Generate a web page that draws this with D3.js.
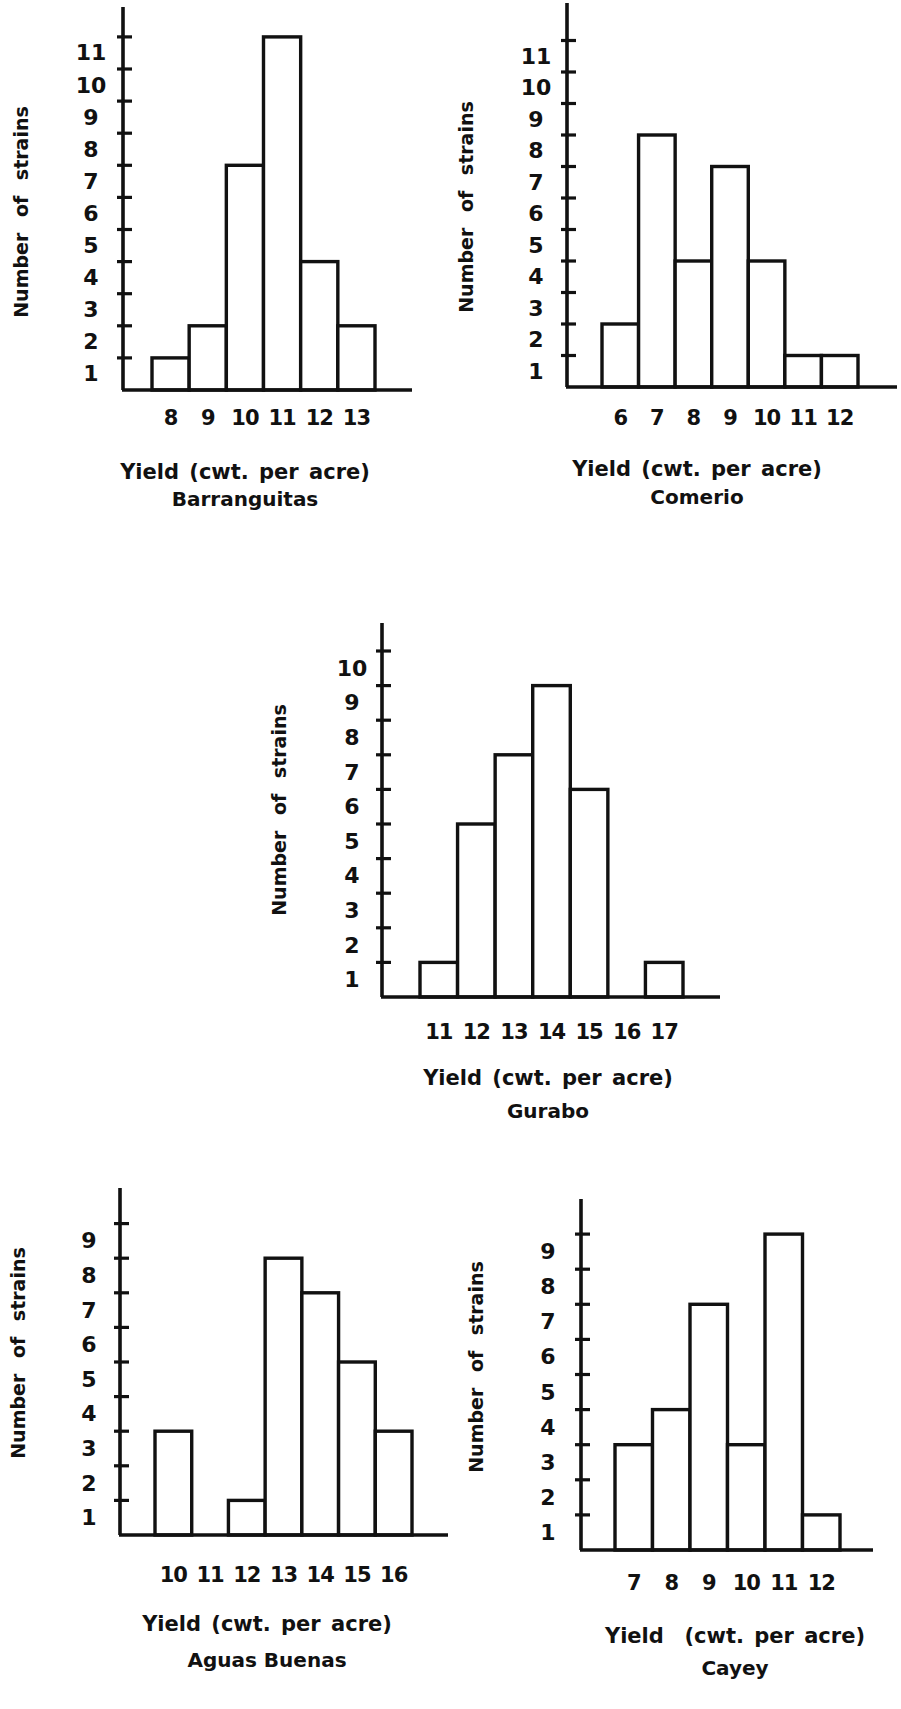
<!DOCTYPE html>
<html><head><meta charset="utf-8">
<script src="https://cdn.jsdelivr.net/npm/d3@7"></script>
<style>
html,body{margin:0;padding:0;background:#fff;}
svg{display:block;}
text{font-family:"DejaVu Sans",sans-serif;font-weight:bold;fill:#111;}
</style></head>
<body><svg id="chart" width="901" height="1709"></svg>
<script>
// ---- data ----
const barranguitasCats = [8, 9, 10, 11, 12, 13];
const barranguitasVals = [1, 2, 7, 11, 4, 2];
const barranguitasTicks = [1,2,3,4,5,6,7,8,9,10,11];

const comerioCats = [6, 7, 8, 9, 10, 11, 12];
const comerioVals = [2, 8, 4, 7, 4, 1, 1];
const comerioTicks = [1,2,3,4,5,6,7,8,9,10,11];

const guraboCats = [11, 12, 13, 14, 15, 16, 17];
const guraboVals = [1, 5, 7, 9, 6, 0, 1];
const guraboTicks = [1,2,3,4,5,6,7,8,9,10];

const aguasCats = [10, 11, 12, 13, 14, 15, 16];
const aguasVals = [3, 0, 1, 8, 7, 5, 3];
const aguasTicks = [1,2,3,4,5,6,7,8,9];

const cayeyCats = [7, 8, 9, 10, 11, 12];
const cayeyVals = [3, 4, 7, 3, 9, 1];
const cayeyTicks = [1,2,3,4,5,6,7,8,9];

const xTitle = "Yield (cwt. per acre)";
const yTitle = "Number of strains";

// ---- layout ----
const panels = [
  {cats: barranguitasCats, vals: barranguitasVals, ticks: barranguitasTicks, name: "Barranguitas",
   ax: 123, base: 390, unit: 32.1, top: 7, right: 412, x0: 152, x1: 375,
   lblX: 91, xLblY: 418, titleX: 245, titleY: 472, nameY: 499, yTX: 21, yTY: 212, xTitle: xTitle},
  {cats: comerioCats, vals: comerioVals, ticks: comerioTicks, name: "Comerio",
   ax: 567, base: 387, unit: 31.5, top: 3, right: 897, x0: 602, x1: 858,
   lblX: 536, xLblY: 418, titleX: 697, titleY: 469, nameY: 497, yTX: 466, yTY: 207, xTitle: xTitle},
  {cats: guraboCats, vals: guraboVals, ticks: guraboTicks, name: "Gurabo",
   ax: 382, base: 997, unit: 34.6, top: 623, right: 720, x0: 420, x1: 683,
   lblX: 352, xLblY: 1032, titleX: 548, titleY: 1078, nameY: 1111, yTX: 279, yTY: 810, xTitle: xTitle},
  {cats: aguasCats, vals: aguasVals, ticks: aguasTicks, name: "Aguas Buenas",
   ax: 120, base: 1535, unit: 34.6, top: 1188, right: 448, x0: 155, x1: 412,
   lblX: 89, xLblY: 1575, titleX: 267, titleY: 1624, nameY: 1660, yTX: 18, yTY: 1353, xTitle: xTitle},
  {cats: cayeyCats, vals: cayeyVals, ticks: cayeyTicks, name: "Cayey",
   ax: 581, base: 1550, unit: 35.1, top: 1199, right: 873, x0: 615, x1: 840,
   lblX: 548, xLblY: 1583, titleX: 735, titleY: 1636, nameY: 1668, yTX: 476, yTY: 1367, xTitle: "Yield\u00a0\u00a0(cwt. per acre)"}
];

const svg = d3.select("#chart");
svg.append("rect").attr("width", 901).attr("height", 1709).attr("fill", "#fff");

panels.forEach(p => {
  const g = svg.append("g");
  const maxV = (p.base - p.top) / p.unit;
  const y = d3.scaleLinear().domain([0, maxV]).range([p.base, p.top]);
  const x = d3.scaleBand().domain(p.cats).range([p.x0, p.x1]).paddingInner(0).paddingOuter(0);

  // bars
  g.selectAll("rect.bar").data(p.cats.map((c, i) => ({c, v: p.vals[i]})).filter(d => d.v > 0))
    .enter().append("rect").attr("class", "bar")
    .attr("x", d => x(d.c)).attr("width", x.bandwidth())
    .attr("y", d => y(d.v)).attr("height", d => y(0) - y(d.v))
    .attr("fill", "#fff").attr("stroke", "#111").attr("stroke-width", 3.4);

  // y axis line
  g.append("line").attr("x1", p.ax).attr("x2", p.ax).attr("y1", y(maxV)).attr("y2", y(0))
    .attr("stroke", "#111").attr("stroke-width", 3.6);
  // baseline
  g.append("line").attr("x1", p.ax - 1).attr("x2", p.right).attr("y1", y(0)).attr("y2", y(0))
    .attr("stroke", "#111").attr("stroke-width", 3.6);

  // y ticks (crossing the axis)
  g.selectAll("line.tick").data(p.ticks).enter().append("line").attr("class", "tick")
    .attr("x1", p.ax - 6).attr("x2", p.ax + 9)
    .attr("y1", d => y(d)).attr("y2", d => y(d))
    .attr("stroke", "#111").attr("stroke-width", 3.2);
  // y tick labels, lettered just below each tick
  g.selectAll("text.ylab").data(p.ticks).enter().append("text").attr("class", "ylab")
    .attr("x", p.lblX).attr("y", d => y(d - 0.5))
    .attr("text-anchor", "middle").attr("dominant-baseline", "central")
    .attr("font-size", 22).text(d => d);

  // x labels via axis
  const xa = g.append("g").attr("transform", `translate(0,${p.xLblY})`)
    .call(d3.axisBottom(x).tickSize(0).tickPadding(0));
  xa.select(".domain").remove();
  xa.selectAll("text").attr("font-size", 21).attr("font-family", "DejaVu Sans")
    .attr("font-weight", "bold").attr("fill", "#111").attr("dy", "0.35em").attr("y", 0)
    .attr("letter-spacing", -1);

  // titles
  g.append("text").attr("x", p.titleX).attr("y", p.titleY).attr("text-anchor", "middle")
    .attr("dominant-baseline", "central").attr("font-size", 21).attr("word-spacing", 3).text(p.xTitle);
  g.append("text").attr("x", p.titleX).attr("y", p.nameY).attr("text-anchor", "middle")
    .attr("dominant-baseline", "central").attr("font-size", 20).text(p.name);
  g.append("text").attr("transform", `translate(${p.yTX},${p.yTY}) rotate(-90)`)
    .attr("text-anchor", "middle").attr("dominant-baseline", "central")
    .attr("font-size", 19).attr("word-spacing", 9).text(yTitle);
});
</script></body></html>
